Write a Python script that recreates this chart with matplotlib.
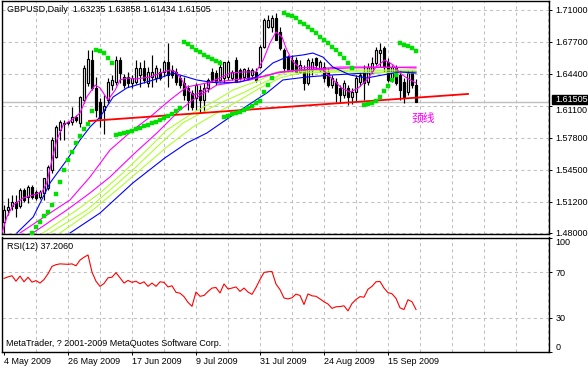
import matplotlib
matplotlib.use("Agg")
import matplotlib.pyplot as plt
from matplotlib.patches import Rectangle

plt.rcParams['font.family'] = ['Liberation Sans', 'DejaVu Sans']
plt.rcParams['font.size'] = 6.5

# ---- daily bars GBPUSD, 4 May 2009 .. 24 Sep 2009 ----
bar_open = [1.4909, 1.5032, 1.5074, 1.5115, 1.5074, 1.5239, 1.5166, 1.5270, 1.5218, 1.5166,
            1.5208, 1.5259, 1.5445, 1.5579, 1.5857, 1.5930, 1.5930, 1.5940, 1.5991, 1.5930,
            1.6167, 1.6342, 1.6579, 1.6291, 1.6146, 1.6064, 1.6167, 1.6321, 1.6352, 1.6579,
            1.6404, 1.6404, 1.6342, 1.6352, 1.6425, 1.6497, 1.6342, 1.6404, 1.6394, 1.6456,
            1.6456, 1.6559, 1.6476, 1.6456, 1.6394, 1.6342, 1.6291, 1.6239, 1.6187, 1.6270,
            1.6167, 1.6291, 1.6456, 1.6445, 1.6373, 1.6394, 1.6404, 1.6394, 1.6579, 1.6476,
            1.6404, 1.6476, 1.6425, 1.6456, 1.6507, 1.6713, 1.6920, 1.6920, 1.7012, 1.6868,
            1.6682, 1.6610, 1.6579, 1.6579, 1.6456, 1.6476, 1.6342, 1.6476, 1.6600, 1.6476,
            1.6507, 1.6456, 1.6321, 1.6352, 1.6291, 1.6218, 1.6291, 1.6198, 1.6249, 1.6352,
            1.6456, 1.6352, 1.6456, 1.6548, 1.6651, 1.6703, 1.6559, 1.6373, 1.6497, 1.6425,
            1.6352, 1.6249, 1.6456, 1.63235]
bar_high = [1.5084, 1.5156, 1.5187, 1.5187, 1.5259, 1.5259, 1.5290, 1.5290, 1.5239, 1.5239,
            1.5362, 1.5496, 1.5785, 1.5909, 1.5961, 1.5961, 1.5950, 1.6095, 1.6012, 1.6208,
            1.6528, 1.6682, 1.6682, 1.6404, 1.6187, 1.6218, 1.6394, 1.6425, 1.6621, 1.6610,
            1.6435, 1.6456, 1.6425, 1.6579, 1.6559, 1.6579, 1.6507, 1.6631, 1.6528, 1.6497,
            1.6579, 1.6755, 1.6528, 1.6497, 1.6425, 1.6404, 1.6321, 1.6270, 1.6342, 1.6321,
            1.6342, 1.6394, 1.6497, 1.6476, 1.6579, 1.6559, 1.6579, 1.6476, 1.6610, 1.6497,
            1.6497, 1.6507, 1.6497, 1.6497, 1.6734, 1.7012, 1.7043, 1.7043, 1.7064, 1.6920,
            1.6703, 1.6631, 1.6631, 1.6610, 1.6579, 1.6528, 1.6600, 1.6600, 1.6610, 1.6579,
            1.6559, 1.6497, 1.6425, 1.6394, 1.6321, 1.6373, 1.6321, 1.6291, 1.6425, 1.6456,
            1.6528, 1.6548, 1.6610, 1.6713, 1.6755, 1.6724, 1.6600, 1.6528, 1.6528, 1.6476,
            1.6394, 1.6476, 1.6476, 1.63858]
bar_low = [1.4795, 1.4981, 1.5032, 1.4960, 1.5053, 1.5115, 1.5105, 1.5146, 1.5136, 1.5146,
           1.5136, 1.5239, 1.5414, 1.5569, 1.5754, 1.5754, 1.5909, 1.5909, 1.5940, 1.5888,
           1.6136, 1.6311, 1.6270, 1.5991, 1.5888, 1.5816, 1.6136, 1.6270, 1.6321, 1.6342,
           1.6291, 1.6301, 1.6291, 1.6332, 1.6301, 1.6342, 1.6301, 1.6301, 1.6352, 1.6373,
           1.6414, 1.6301, 1.6394, 1.6321, 1.6291, 1.6167, 1.6064, 1.6064, 1.6064, 1.6033,
           1.6043, 1.6249, 1.6352, 1.6321, 1.6352, 1.6342, 1.6373, 1.6373, 1.6352, 1.6373,
           1.6373, 1.6373, 1.6394, 1.6352, 1.6497, 1.6703, 1.6909, 1.6868, 1.6785, 1.6682,
           1.6456, 1.6456, 1.6456, 1.6456, 1.6445, 1.6270, 1.6321, 1.6425, 1.6476, 1.6456,
           1.6352, 1.6301, 1.6291, 1.6146, 1.6146, 1.6187, 1.6115, 1.6126, 1.6146, 1.6311,
           1.6167, 1.6321, 1.6445, 1.6528, 1.6507, 1.6456, 1.6352, 1.6352, 1.6321, 1.6167,
           1.6136, 1.6218, 1.6291, 1.61434]
bar_close = [1.5032, 1.5063, 1.5115, 1.5053, 1.5239, 1.5136, 1.5270, 1.5166, 1.5156, 1.5218,
             1.5362, 1.5476, 1.5754, 1.5888, 1.5940, 1.5919, 1.5940, 1.5991, 1.5961, 1.6198,
             1.6497, 1.6590, 1.6291, 1.6064, 1.5981, 1.6105, 1.6352, 1.6373, 1.6579, 1.6445,
             1.6321, 1.6342, 1.6394, 1.6497, 1.6497, 1.6373, 1.6456, 1.6456, 1.6497, 1.6394,
             1.6559, 1.6425, 1.6425, 1.6352, 1.6321, 1.6218, 1.6167, 1.6095, 1.6321, 1.6167,
             1.6291, 1.6373, 1.6373, 1.6352, 1.6507, 1.6559, 1.6559, 1.6456, 1.6352, 1.6394,
             1.6486, 1.6394, 1.6476, 1.6373, 1.6713, 1.6992, 1.6992, 1.7012, 1.6785, 1.6703,
             1.6497, 1.6476, 1.6476, 1.6456, 1.6528, 1.6342, 1.6579, 1.6559, 1.6528, 1.6559,
             1.6394, 1.6321, 1.6394, 1.6239, 1.6218, 1.6342, 1.6198, 1.6249, 1.6394, 1.6425,
             1.6342, 1.6507, 1.6548, 1.6682, 1.6682, 1.6507, 1.6373, 1.6507, 1.6342, 1.6270,
             1.6198, 1.6445, 1.6321, 1.61505]

# RSI(12) per bar
rsi_values = [64.5, 65.8, 66.8, 62.0, 66.5, 61.5, 65.5, 61.2, 62.5, 60.4,
              63.5, 68.5, 75.0, 76.5, 77.2, 77.0, 76.8, 77.2, 75.5, 80.5,
              83.0, 85.0, 70.0, 62.0, 57.5, 60.0, 65.0, 65.5, 69.5, 65.0,
              60.4, 62.7, 61.0, 62.0, 59.8, 61.5, 57.5, 60.4, 57.5, 61.5,
              61.0, 57.0, 58.0, 52.3, 51.5, 48.5, 43.5, 40.0, 52.6, 48.8,
              49.5, 53.0, 56.0, 56.5, 51.7, 59.6, 55.2, 56.0, 57.0, 53.1,
              56.0, 52.5, 50.5, 56.5, 63.5, 69.7, 70.3, 70.5, 59.5, 54.6,
              47.3, 46.5, 47.5, 50.7, 49.5, 41.6, 50.9, 49.2, 48.8, 46.5,
              44.0, 42.0, 38.2, 39.6, 39.8, 40.5, 36.0, 42.5, 46.0, 48.5,
              48.0, 55.0, 57.5, 61.5, 61.8, 56.0, 52.0, 51.0, 47.0, 38.7,
              37.2, 45.8, 44.0, 37.206]

# moving averages (bar index, price)
ma_fast_mag_i = [-0.5, 0.7, 2.3, 4.8, 7.3, 9.5, 10.7, 12, 13.2, 14.8, 17, 19, 20.7, 22.8, 24, 26,
                 27.8, 29, 30.7, 33, 36.5, 39.8, 41.5, 43, 44.8, 46, 47.3, 49, 50.7, 51.5, 54,
                 56.5, 59.8, 63, 64.8, 66.5, 68, 69.5, 70.7, 72.3, 74, 77.3, 79.8, 82.3, 84.4,
                 86.5, 88.6, 90.7, 93, 95.2, 97.3, 99, 100.7, 103]
ma_fast_mag_p = [1.4795, 1.4960, 1.5084, 1.5156, 1.5187, 1.5218, 1.5311, 1.5548, 1.5754, 1.5909,
                 1.5961, 1.6033, 1.6198, 1.6321, 1.6291, 1.6167, 1.6270, 1.6373, 1.6394, 1.6383,
                 1.6404, 1.6456, 1.6476, 1.6456, 1.6352, 1.6270, 1.6218, 1.6239, 1.6291, 1.6352,
                 1.6394, 1.6445, 1.6456, 1.6456, 1.6579, 1.6755, 1.6868, 1.6816, 1.6682, 1.6559,
                 1.6497, 1.6507, 1.6476, 1.6373, 1.6291, 1.6249, 1.6291, 1.6373, 1.6507, 1.6579,
                 1.6528, 1.6445, 1.6394, 1.6342]
ma_fast_blue_i = [3.2, 7.3, 11.5, 15.7, 19, 21.5, 24, 27.3, 30.7, 34.8, 39, 42.3, 45.7, 48.2,
                  51.5, 54, 59, 63.2, 67.2, 70.7, 74.7, 77.2, 79.7, 82.2, 86.5, 90.7, 94.7, 99, 103]
ma_fast_blue_p = [1.4795, 1.4960, 1.5311, 1.5548, 1.5754, 1.5888, 1.5991, 1.6198, 1.6291, 1.6342,
                  1.6394, 1.6445, 1.6404, 1.6373, 1.6352, 1.6342, 1.6352, 1.6404, 1.6548, 1.6610,
                  1.6631, 1.6651, 1.6610, 1.6507, 1.6425, 1.6394, 1.6425, 1.6456, 1.6445]
ma_slow_blue_i = [16.5, 24, 32.2, 40.2, 45.7, 50.7, 56.5, 62.2, 65.7, 69.7, 75.7, 82.2, 90.7, 99, 103]
ma_slow_blue_p = [1.4795, 1.5001, 1.5311, 1.5569, 1.5723, 1.5826, 1.5991, 1.6146, 1.6239, 1.6373,
                  1.6404, 1.6425, 1.6445, 1.6456, 1.6456]
ma_mag2_i = [4, 11.5, 16.5, 21.5, 26.5, 32.2, 36.5, 41.5, 45.7, 50.7, 57.2, 64, 69, 74, 84, 94, 103]
ma_mag2_p = [1.4795, 1.5001, 1.5136, 1.5373, 1.5651, 1.5857, 1.5991, 1.6167, 1.6301, 1.6342,
             1.6373, 1.6404, 1.6456, 1.6476, 1.6507, 1.6507, 1.6497]
ma_mag3_i = [7.2, 15.7, 21.5, 26.5, 32.2, 38.2, 44, 47.2, 53.2, 61.5, 68.2, 74, 86.5, 103]
ma_mag3_p = [1.4795, 1.5032, 1.5208, 1.5373, 1.5600, 1.5826, 1.6064, 1.6167, 1.6321, 1.6373,
             1.6445, 1.6476, 1.6497, 1.6507]
ma_grn1_i = [9.7, 18.2, 24, 29.7, 35.7, 40.7, 47.2, 53.2, 57.2, 64, 68.2, 74, 103]
ma_grn1_p = [1.4795, 1.5032, 1.5208, 1.5414, 1.5651, 1.5857, 1.6033, 1.6167, 1.6270, 1.6373,
             1.6456, 1.6476, 1.6476]
ma_grn2_i = [11.5, 20.7, 26.5, 32.2, 38.2, 44.7, 50.7, 55.7, 60.2, 65.2, 70.2, 76.5, 103]
ma_grn2_p = [1.4795, 1.5032, 1.5239, 1.5445, 1.5682, 1.5930, 1.6064, 1.6167, 1.6249, 1.6352,
             1.6445, 1.6466, 1.6466]
ma_grn3_i = [14, 22.2, 28.2, 34, 40.7, 47.2, 53.2, 59, 64, 69, 74, 84, 103]
ma_grn3_p = [1.4795, 1.5032, 1.5239, 1.5445, 1.5682, 1.5888, 1.6033, 1.6167, 1.6291, 1.6394,
             1.6445, 1.6456, 1.6445]

# parabolic SAR dots
sar_i = (list(range(7, 23)) + list(range(23, 28)) + list(range(28, 45)) + list(range(45, 55))
         + list(range(55, 68)) + list(range(70, 88)) + list(range(90, 99)) + list(range(99, 104)))
sar_p = [1.4795, 1.4857, 1.4909, 1.4970, 1.5012, 1.5084, 1.5197, 1.5321, 1.5445, 1.5548,
         1.5631, 1.5723, 1.5796, 1.5868, 1.5919, 1.6053,
         1.6682, 1.6672, 1.6651, 1.6600, 1.6548,
         1.5806, 1.5816, 1.5826, 1.5837, 1.5847, 1.5868, 1.5878, 1.5899, 1.5909, 1.5930,
         1.5940, 1.5961, 1.5981, 1.6002, 1.6022, 1.6053, 1.6084,
         1.6765, 1.6744, 1.6713, 1.6682, 1.6662, 1.6631, 1.6610, 1.6590, 1.6569, 1.6548,
         1.5991, 1.6002, 1.6022, 1.6033, 1.6043, 1.6064, 1.6084, 1.6105, 1.6136, 1.6156,
         1.6249, 1.6321, 1.6394,
         1.7064, 1.7043, 1.7033, 1.7012, 1.6971, 1.6950, 1.6920, 1.6889, 1.6858, 1.6816,
         1.6785, 1.6755, 1.6713, 1.6682, 1.6641, 1.6600, 1.6548, 1.6497,
         1.6115, 1.6126, 1.6136, 1.6156, 1.6198, 1.6259, 1.6311, 1.6373, 1.6425,
         1.6755, 1.6734, 1.6724, 1.6703, 1.6672]

# neckline
neck_i = [21.25, 116]
neck_p = [1.5950, 1.6229]

price_ticks = [1.71, 1.677, 1.644, 1.611, 1.578, 1.545, 1.512, 1.48]
rsi_ticks = [100, 70, 30, 0]
date_pos = [0, 16, 32, 48, 64, 80, 96]
date_labels = ['4 May 2009', '26 May 2009', '17 Jun 2009', '9 Jul 2009',
               '31 Jul 2009', '24 Aug 2009', '15 Sep 2009']

W, H = 588, 369
GRID = '#c0c0c0'


def box(l, t, r, b):
    return [l / W, 1 - b / H, (r - l) / W, (b - t) / H]


fig = plt.figure(figsize=(W / 100, H / 100), dpi=100)
fig.patch.set_facecolor('white')

ax = fig.add_axes(box(2, 1, 549, 234.5))
rsi_ax = fig.add_axes(box(2, 237.5, 549, 352))

for a in (ax, rsi_ax):
    a.set_xlim(-0.5, 136.25)
    for s in a.spines.values():
        s.set_linewidth(1.0)
        s.set_color('black')
    for gx in range(8, 137, 8):
        a.axvline(gx, color=GRID, lw=0.75, ls=(0, (3, 3)), zorder=0)

# ---- price panel ----
ax.set_ylim(1.47797, 1.71877)
for p in price_ticks:
    ax.axhline(p, color=GRID, lw=0.75, ls=(0, (3, 3)), zorder=0)
ax.axhline(bar_close[-1], color=GRID, lw=1.0, zorder=1)

ax.set_xticks([])
ax.yaxis.tick_right()
ax.set_yticks(price_ticks)
ax.set_yticklabels(['%.5f' % p for p in price_ticks])
ax.tick_params(axis='y', length=2.2, width=0.7, pad=2.5, labelsize=6.5)
# the 1.61100 label sits just under the current-price box
ax.get_yticklabels()[3].set_va('top')

idx = list(range(len(bar_close)))
ax.vlines(idx, bar_low, bar_high, color='black', lw=0.85, zorder=2)
bottoms = [min(o, c) for o, c in zip(bar_open, bar_close)]
heights = [max(abs(c - o), 0.0002) for o, c in zip(bar_open, bar_close)]
colors = ['white' if c >= o else 'black' for o, c in zip(bar_open, bar_close)]
ax.bar(idx, heights, bottom=bottoms, width=0.62, color=colors,
       edgecolor='black', linewidth=0.85, zorder=3)

ax.plot(ma_slow_blue_i, ma_slow_blue_p, color='#0000ff', lw=0.8, zorder=4)
ax.plot(ma_grn3_i, ma_grn3_p, color='#adff2f', lw=0.8, zorder=4)
ax.plot(ma_grn2_i, ma_grn2_p, color='#adff2f', lw=0.8, zorder=4)
ax.plot(ma_grn1_i, ma_grn1_p, color='#adff2f', lw=0.8, zorder=4)
ax.plot(ma_mag3_i, ma_mag3_p, color='#ff00ff', lw=0.8, zorder=4)
ax.plot(ma_mag2_i, ma_mag2_p, color='#ff00ff', lw=0.8, zorder=4)
ax.plot(ma_fast_blue_i, ma_fast_blue_p, color='#0000ff', lw=0.8, zorder=4)
ax.plot(ma_fast_mag_i, ma_fast_mag_p, color='#ff00ff', lw=0.8, zorder=4)

ax.plot(neck_i, neck_p, color='#ff0000', lw=1.3, zorder=5)
ax.plot(sar_i, sar_p, ls='none', marker='s', ms=2.4, mfc='#00e000', mec='#00e000',
        mew=0.3, zorder=6)

ax.text(101.8, 1.5981, '颈线', color='#ff00ff', fontsize=8.5,
        family=['Noto Sans CJK SC', 'DejaVu Sans'], va='center', ha='left', zorder=7)

fig.text(7 / W, 1 - 10 / H, 'GBPUSD,Daily  %.5f %.5f %.5f %.5f'
         % (bar_open[-1], bar_high[-1], bar_low[-1], bar_close[-1]),
         va='center', ha='left')

# current price marker on the axis
fig.add_artist(Rectangle((552 / W, 1 - 104 / H), 36 / W, 9.5 / H,
                         transform=fig.transFigure, color='black', zorder=10))
fig.text(555.5 / W, 1 - 99.4 / H, '%.5f' % bar_close[-1], color='white',
         va='center', ha='left', zorder=11)

# ---- RSI panel ----
rsi_ax.set_ylim(0.7, 100.3)
for lv in (70, 30):
    rsi_ax.axhline(lv, color=GRID, lw=0.75, ls=(0, (3, 3)), zorder=0)
rsi_ax.plot(idx, rsi_values, color='#ff0000', lw=0.8, zorder=3)

rsi_ax.yaxis.tick_right()
rsi_ax.set_yticks(rsi_ticks)
rsi_ax.set_yticklabels([str(v) for v in rsi_ticks])
rsi_ax.tick_params(axis='y', length=2.2, width=0.7, pad=2.5, labelsize=6.5)
ylabs = rsi_ax.get_yticklabels()
ylabs[0].set_va('top')
ylabs[-1].set_va('bottom')

rsi_ax.set_xticks(date_pos)
rsi_ax.set_xticklabels(date_labels)
rsi_ax.tick_params(axis='x', length=2.2, width=0.7, pad=1.5, labelsize=6.5)
for lab in rsi_ax.get_xticklabels():
    lab.set_ha('left')

fig.text(7 / W, 1 - 246.7 / H, 'RSI(12) %.4f' % rsi_values[-1], va='center', ha='left')
fig.text(6 / W, 1 - 343.5 / H, 'MetaTrader, ? 2001-2009 MetaQuotes Software Corp.',
         va='center', ha='left')

fig.savefig('out.png', dpi=100, facecolor='white')
